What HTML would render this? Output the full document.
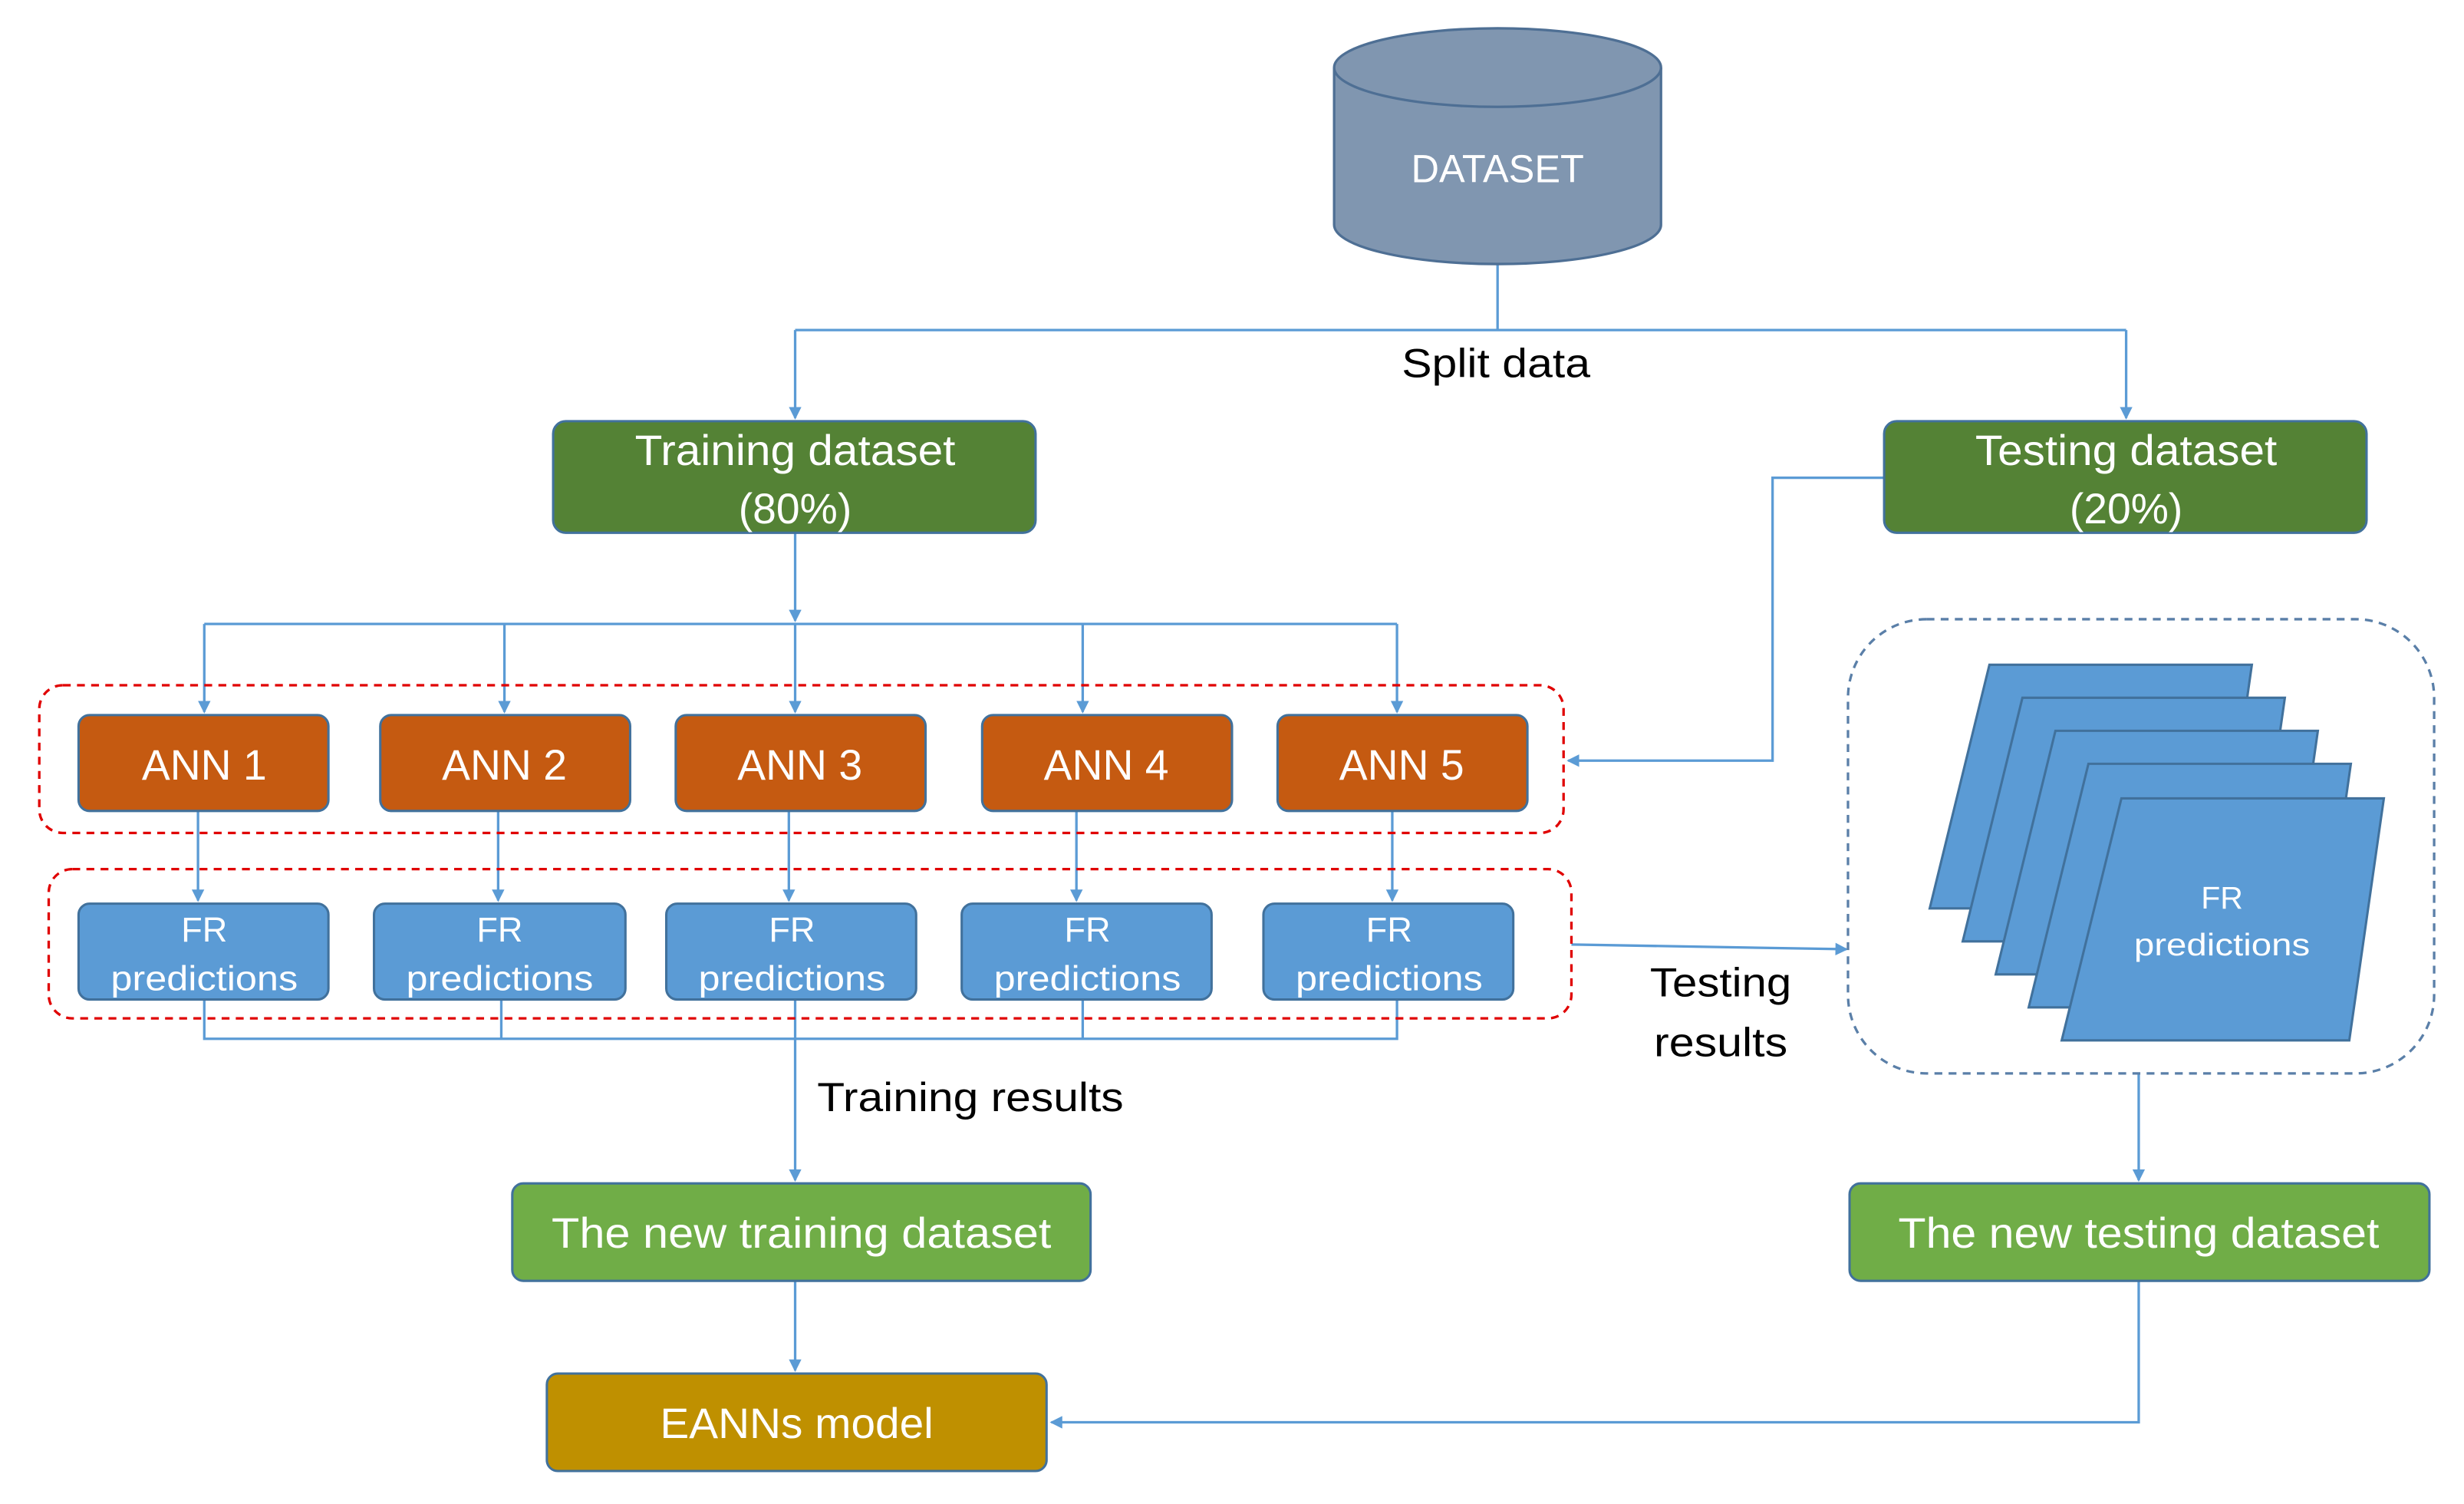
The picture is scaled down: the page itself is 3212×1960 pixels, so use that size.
<!DOCTYPE html>
<html><head><meta charset="utf-8"><style>html,body{margin:0;padding:0;background:#fff}svg{display:block}</style></head>
<body>
<svg width="3212" height="1960" viewBox="0 0 1568 957" preserveAspectRatio="none" xmlns="http://www.w3.org/2000/svg" font-family="'Liberation Sans', sans-serif">
<defs>
<marker id="a" markerWidth="8" markerHeight="8" refX="7" refY="4" orient="auto" markerUnits="userSpaceOnUse"><path d="M0,0 L8,4 L0,8 z" fill="#5b9bd5"/></marker>
</defs>
<g fill="none" stroke="#5b9bd5" stroke-width="1.6">
<path d="M953,168 V210"/>
<path d="M506,210 H1353"/>
<path d="M506,210 V266" marker-end="url(#a)"/>
<path d="M1353,210 V266" marker-end="url(#a)"/>
<path d="M506,339 V395" marker-end="url(#a)"/>
<path d="M130,397 H889"/>
<path d="M130,397 V453" marker-end="url(#a)"/>
<path d="M321,397 V453" marker-end="url(#a)"/>
<path d="M506,397 V453" marker-end="url(#a)"/>
<path d="M689,397 V453" marker-end="url(#a)"/>
<path d="M889,397 V453" marker-end="url(#a)"/>
<path d="M126,516 V573" marker-end="url(#a)"/>
<path d="M317,516 V573" marker-end="url(#a)"/>
<path d="M502,516 V573" marker-end="url(#a)"/>
<path d="M685,516 V573" marker-end="url(#a)"/>
<path d="M886,516 V573" marker-end="url(#a)"/>
<path d="M130,636 V661 H889 V636 M319,636 V661 M689,636 V661"/>
<path d="M506,636 V751" marker-end="url(#a)"/>
<path d="M506,815 V872" marker-end="url(#a)"/>
<path d="M1199,304 H1128 V484 H998" marker-end="url(#a)"/>
<path d="M1000,601 L1175,604" marker-end="url(#a)"/>
<path d="M1361,683 V751" marker-end="url(#a)"/>
<path d="M1361,815 V905 H669" marker-end="url(#a)"/>
</g>
<path d="M849,43 V143 A104,25 0 0 0 1057,143 V43" fill="#8096b0" stroke="#4e6f94" stroke-width="1.6"/>
<ellipse cx="953" cy="43" rx="104" ry="25" fill="#8096b0" stroke="#4e6f94" stroke-width="1.6"/>
<text x="953" y="116" font-size="25" fill="#fff" text-anchor="middle" textLength="110" lengthAdjust="spacingAndGlyphs">DATASET</text>
<text x="952" y="240" font-size="26" fill="#000" text-anchor="middle" textLength="120" lengthAdjust="spacingAndGlyphs">Split data</text>
<g stroke="#41719c" stroke-width="1.5">
<rect x="352" y="268" width="307" height="71" rx="8" fill="#548235"/>
<rect x="1199" y="268" width="307" height="71" rx="8" fill="#548235"/>
</g>
<g fill="#fff" font-size="27" text-anchor="middle">
<text x="506" y="296" textLength="204" lengthAdjust="spacingAndGlyphs">Training dataset</text>
<text x="506" y="333" textLength="72" lengthAdjust="spacingAndGlyphs">(80%)</text>
<text x="1353" y="296" textLength="192" lengthAdjust="spacingAndGlyphs">Testing dataset</text>
<text x="1353" y="333" textLength="72" lengthAdjust="spacingAndGlyphs">(20%)</text>
</g>
<rect x="25" y="436" width="970" height="94" rx="15" fill="none" stroke="#e00000" stroke-width="1.6" stroke-dasharray="5,4"/>
<rect x="31" y="553" width="969" height="95" rx="15" fill="none" stroke="#e00000" stroke-width="1.6" stroke-dasharray="5,4"/>
<g stroke="#41719c" stroke-width="1.5" fill="#c55a11">
<rect x="50" y="455" width="159" height="61" rx="7"/>
<rect x="242" y="455" width="159" height="61" rx="7"/>
<rect x="430" y="455" width="159" height="61" rx="7"/>
<rect x="625" y="455" width="159" height="61" rx="7"/>
<rect x="813" y="455" width="159" height="61" rx="7"/>
</g>
<g fill="#fff" font-size="27" text-anchor="middle">
<text x="130" y="496">ANN 1</text><text x="321" y="496">ANN 2</text><text x="509" y="496">ANN 3</text><text x="704" y="496">ANN 4</text><text x="892" y="496">ANN 5</text>
</g>
<g stroke="#41719c" stroke-width="1.5" fill="#5b9bd5">
<rect x="50" y="575" width="159" height="61" rx="7"/>
<rect x="238" y="575" width="160" height="61" rx="7"/>
<rect x="424" y="575" width="159" height="61" rx="7"/>
<rect x="612" y="575" width="159" height="61" rx="7"/>
<rect x="804" y="575" width="159" height="61" rx="7"/>
</g>
<g fill="#fff" font-size="22" text-anchor="middle">
<text x="130" y="599">FR</text><text x="130" y="630" textLength="119" lengthAdjust="spacingAndGlyphs">predictions</text>
<text x="318" y="599">FR</text><text x="318" y="630" textLength="119" lengthAdjust="spacingAndGlyphs">predictions</text>
<text x="504" y="599">FR</text><text x="504" y="630" textLength="119" lengthAdjust="spacingAndGlyphs">predictions</text>
<text x="692" y="599">FR</text><text x="692" y="630" textLength="119" lengthAdjust="spacingAndGlyphs">predictions</text>
<text x="884" y="599">FR</text><text x="884" y="630" textLength="119" lengthAdjust="spacingAndGlyphs">predictions</text>
</g>
<g fill="#000" font-size="26">
<text x="520" y="707" textLength="195" lengthAdjust="spacingAndGlyphs">Training results</text>
<text x="1095" y="634" text-anchor="middle" textLength="90" lengthAdjust="spacingAndGlyphs">Testing</text>
<text x="1095" y="672" text-anchor="middle" textLength="85" lengthAdjust="spacingAndGlyphs">results</text>
</g>
<rect x="1176" y="394" width="373" height="289" rx="50" fill="none" stroke="#5a7fa8" stroke-width="1.6" stroke-dasharray="5,4"/>
<g fill="#5b9bd5" stroke="#41719c" stroke-width="1.5">
<path d="M1266,423 H1433 L1411,578 H1228 Z"/>
<path d="M1287,444 H1454 L1432,599 H1249 Z"/>
<path d="M1308,465 H1475 L1453,620 H1270 Z"/>
<path d="M1329,486 H1496 L1474,641 H1291 Z"/>
<path d="M1350,508 H1517 L1495,662 H1312 Z"/>
</g>
<text x="1414" y="578" font-size="20" fill="#fff" text-anchor="middle">FR</text>
<text x="1414" y="608" font-size="20" fill="#fff" text-anchor="middle" textLength="112" lengthAdjust="spacingAndGlyphs">predictions</text>
<g stroke="#41719c" stroke-width="1.5">
<rect x="326" y="753" width="368" height="62" rx="7" fill="#70ad47"/>
<rect x="1177" y="753" width="369" height="62" rx="7" fill="#70ad47"/>
<rect x="348" y="874" width="318" height="62" rx="7" fill="#bf9000"/>
</g>
<g fill="#fff" font-size="27" text-anchor="middle">
<text x="510" y="794" textLength="318" lengthAdjust="spacingAndGlyphs">The new training dataset</text>
<text x="1361" y="794" textLength="306" lengthAdjust="spacingAndGlyphs">The new testing dataset</text>
<text x="507" y="915" textLength="174" lengthAdjust="spacingAndGlyphs">EANNs model</text>
</g>
</svg>
</body></html>
